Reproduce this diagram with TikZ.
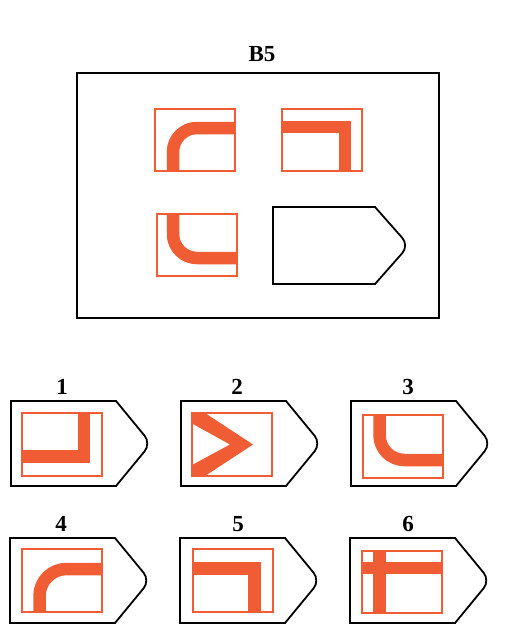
\documentclass[tikz,border=0pt]{standalone}
\usepackage{fontspec}
\setmainfont{Liberation Serif}
\definecolor{orng}{RGB}{240,92,52}
\tikzset{
  tagline/.style={draw=black,line width=1.8pt,line join=miter},
  frame/.style={draw=black,line width=1.2pt},
  obox/.style={draw=orng,line width=1.4pt},
  ostroke/.style={draw=orng,line width=12.5pt,line cap=butt},
  lbl/.style={font=\bfseries\fontsize{23}{23}\selectfont,inner sep=0pt}
}
\newcommand\anstag[2]{\draw[tagline] (#1,#2) -- ++(105,0) [rounded corners=10] -- ++(35,42.5) [sharp corners] -- ++(-35,42.5) -- ++(-105,0) -- cycle;}
\begin{document}
\begin{tikzpicture}[x=1pt,y=-1pt]
\useasboundingbox (0,0) rectangle (513,627);
% title and main frame
\node[lbl] (title) at (262,54) {B5};
\draw[frame] (77,73) rectangle (439,318);
% top-left cell
\begin{scope}
\clip (155,109) rectangle (235,171);
\draw[ostroke,rounded corners=24] (173,185) -- (173,128) -- (250,128);
\end{scope}
\draw[obox] (155,109) rectangle (235,171);
% top-right cell
\begin{scope}
\clip (282,109) rectangle (362,171);
\draw[ostroke,line join=miter] (270,127) -- (345,127) -- (345,185);
\end{scope}
\draw[obox] (282,109) rectangle (362,171);
% bottom-left cell
\begin{scope}
\clip (157,214) rectangle (237,276);
\draw[ostroke,rounded corners=24] (173,200) -- (173,258) -- (250,258);
\end{scope}
\draw[obox] (157,214) rectangle (237,276);
% empty tag
\draw[tagline] (273,207) -- (375,207) [rounded corners=10] -- (409,245.5) [sharp corners] -- (375,284) -- (273,284) -- cycle;
% answer tags
\anstag{11}{401}
\anstag{181}{401}
\anstag{351}{401}
\anstag{10}{538}
\anstag{180}{538}
\anstag{350}{538}
% labels
\node[lbl] (l1) at (62,387) {1};
\node[lbl] (l2) at (237,387) {2};
\node[lbl] (l3) at (408,387) {3};
\node[lbl] (l4) at (61,524) {4};
\node[lbl] (l5) at (238,524) {5};
\node[lbl] (l6) at (408,524) {6};
% answer 1
\begin{scope}
\clip (22,413) rectangle (102,476);
\draw[ostroke,line join=miter] (84,400) -- (84,456.7) -- (10,456.7);
\end{scope}
\draw[obox] (22,413) rectangle (102,476);
% answer 2
\begin{scope}
\clip (192,413) rectangle (272,476);
\fill[orng] (192,413) -- (205,413) -- (253,444.5) -- (205,476) -- (192,476) -- (192,465) -- (230,444.5) -- (192,423.5) -- cycle;
\end{scope}
\draw[obox] (192,413) rectangle (272,476);
% answer 3
\begin{scope}
\clip (363,415) rectangle (443,478);
\draw[ostroke,rounded corners=25] (379.5,405) -- (379.5,460) -- (455,460);
\end{scope}
\draw[obox] (363,415) rectangle (443,478);
% answer 4
\begin{scope}
\clip (22,549) rectangle (102,612);
\draw[ostroke,rounded corners=27] (39.5,625) -- (39.5,569) -- (115,569);
\end{scope}
\draw[obox] (22,549) rectangle (102,612);
% answer 5
\begin{scope}
\clip (193,549) rectangle (273,612);
\draw[ostroke,line join=miter] (180,568.7) -- (254.5,568.7) -- (254.5,625);
\end{scope}
\draw[obox] (193,549) rectangle (273,612);
% answer 6
\begin{scope}
\clip (362,551) rectangle (442,613);
\draw[ostroke] (350,568) -- (455,568);
\draw[ostroke] (379.7,540) -- (379.7,625);
\end{scope}
\draw[obox] (362,551) rectangle (442,613);
\end{tikzpicture}
\end{document}
